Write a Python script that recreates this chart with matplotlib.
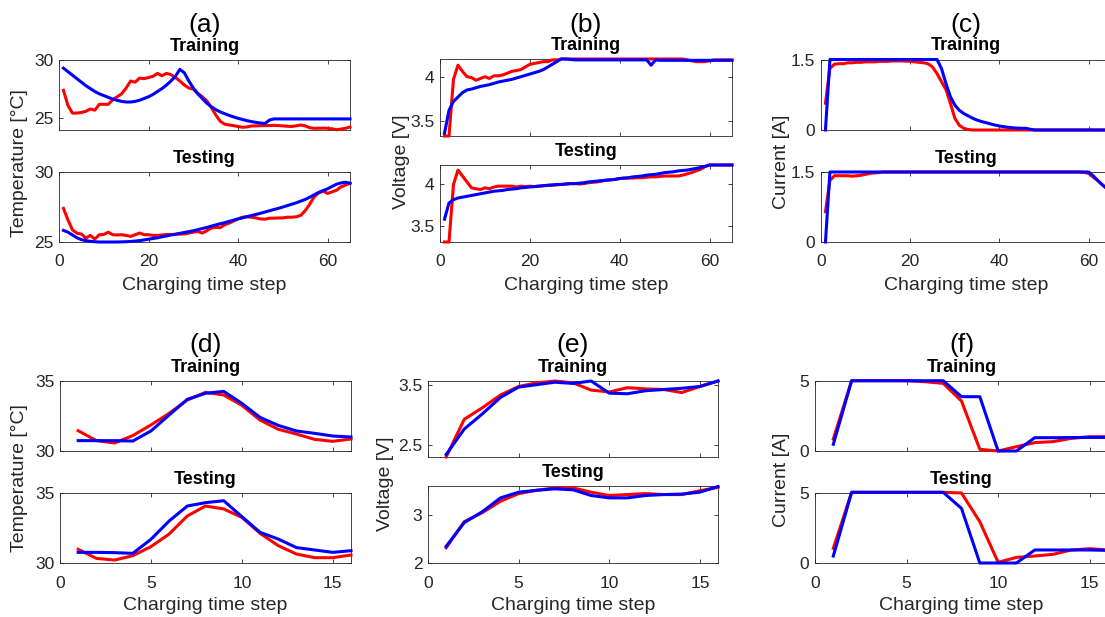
import matplotlib
matplotlib.use('Agg')
import matplotlib.pyplot as plt
from matplotlib.ticker import FormatStrFormatter
import numpy as np

# 字体: Arial 替代
plt.rcParams['font.family'] = ['Liberation Sans', 'DejaVu Sans']

# ==================== 数据 ====================
steps_long = np.arange(1, 66)
steps_short = np.arange(1, 17)

# (a) 温度, 65 步
a_train_red = [27.4, 26.1, 25.45, 25.45, 25.5, 25.6, 25.8, 25.7, 26.2, 26.2,
               26.2, 26.6, 26.85, 27.1, 27.6, 28.2, 28.1, 28.45, 28.4, 28.5,
               28.6, 28.85, 28.65, 28.85, 28.75, 28.5, 28.2, 27.85, 27.6, 27.5,
               27.15, 26.85, 26.5, 25.95, 25.3, 24.75, 24.5, 24.43, 24.37, 24.3,
               24.23, 24.26, 24.35, 24.35, 24.37, 24.37, 24.38, 24.4, 24.38, 24.35,
               24.32, 24.3, 24.36, 24.43, 24.35, 24.2, 24.14, 24.15, 24.16, 24.15,
               24.1, 24.02, 24.08, 24.15, 24.25]
a_train_blue = [29.3, 29.0, 28.7, 28.4, 28.1, 27.8, 27.55, 27.3, 27.1, 26.95,
                26.8, 26.65, 26.55, 26.45, 26.4, 26.4, 26.45, 26.55, 26.7, 26.85,
                27.05, 27.3, 27.55, 27.85, 28.2, 28.6, 29.2, 28.9, 28.2, 27.6,
                27.1, 26.7, 26.3, 26.0, 25.75, 25.55, 25.4, 25.25, 25.12, 25.0,
                24.9, 24.8, 24.72, 24.65, 24.6, 24.55, 24.85, 24.95, 24.95, 24.95,
                24.95, 24.95, 24.95, 24.95, 24.95, 24.95, 24.95, 24.95, 24.95, 24.95,
                24.95, 24.95, 24.95, 24.95, 24.95]
a_test_red = [27.4, 26.58, 25.87, 25.63, 25.57, 25.28, 25.47, 25.21, 25.52, 25.54,
              25.7, 25.52, 25.5, 25.52, 25.47, 25.4, 25.52, 25.64, 25.52, 25.52,
              25.47, 25.47, 25.5, 25.54, 25.54, 25.54, 25.57, 25.57, 25.64, 25.7,
              25.75, 25.64, 25.8, 26.0, 26.04, 26.02, 26.23, 26.35, 26.5, 26.65,
              26.77, 26.8, 26.77, 26.72, 26.65, 26.63, 26.7, 26.7, 26.72, 26.72,
              26.77, 26.77, 26.8, 26.9, 27.24, 27.7, 28.23, 28.5, 28.63, 28.47,
              28.58, 28.7, 28.94, 29.06, 29.2]
a_test_blue = [25.83, 25.7, 25.5, 25.3, 25.17, 25.1, 25.05, 25.02, 25.0, 25.0,
               25.0, 25.0, 25.0, 25.01, 25.02, 25.04, 25.07, 25.1, 25.15, 25.2,
               25.25, 25.3, 25.37, 25.43, 25.5, 25.56, 25.62, 25.68, 25.74, 25.8,
               25.88, 25.96, 26.04, 26.13, 26.22, 26.3, 26.38, 26.47, 26.56, 26.65,
               26.73, 26.81, 26.89, 26.97, 27.05, 27.14, 27.23, 27.32, 27.4, 27.5,
               27.6, 27.7, 27.8, 27.92, 28.04, 28.2, 28.37, 28.54, 28.67, 28.8,
               28.97, 29.13, 29.22, 29.27, 29.2]

# (b) 电压, 65 步
b_train_red = [3.33, 3.33, 3.97, 4.13, 4.06, 4.0, 3.99, 3.96, 3.98, 4.0,
               3.98, 4.01, 4.01, 4.02, 4.04, 4.06, 4.07, 4.08, 4.11, 4.14,
               4.15, 4.16, 4.17, 4.17, 4.19, 4.19, 4.2, 4.2, 4.2, 4.2,
               4.2, 4.2, 4.2, 4.2, 4.2, 4.2, 4.2, 4.2, 4.2, 4.2,
               4.2, 4.2, 4.2, 4.2, 4.2, 4.2, 4.2, 4.2, 4.2, 4.2,
               4.2, 4.2, 4.2, 4.2, 4.19, 4.18, 4.17, 4.17, 4.17, 4.18,
               4.19, 4.19, 4.19, 4.19, 4.19]
b_train_blue = [3.36, 3.62, 3.72, 3.77, 3.82, 3.85, 3.86, 3.875, 3.89, 3.9,
                3.91, 3.925, 3.94, 3.95, 3.96, 3.97, 3.985, 4.0, 4.015, 4.03,
                4.045, 4.06, 4.08, 4.11, 4.14, 4.17, 4.2, 4.2, 4.195, 4.19,
                4.19, 4.19, 4.19, 4.19, 4.19, 4.19, 4.19, 4.19, 4.19, 4.19,
                4.19, 4.19, 4.19, 4.19, 4.19, 4.19, 4.13, 4.19, 4.185, 4.185,
                4.185, 4.185, 4.185, 4.185, 4.185, 4.185, 4.185, 4.185, 4.185, 4.185,
                4.185, 4.185, 4.185, 4.185, 4.185]
b_test_red = [3.31, 3.31, 3.99, 4.16, 4.09, 4.02, 3.95, 3.94, 3.93, 3.95,
              3.94, 3.96, 3.97, 3.97, 3.97, 3.97, 3.96, 3.97, 3.965, 3.97,
              3.965, 3.97, 3.975, 3.98, 3.98, 3.985, 3.99, 3.995, 4.0, 4.0,
              3.995, 4.0, 4.01, 4.015, 4.02, 4.03, 4.04, 4.045, 4.05, 4.06,
              4.065, 4.065, 4.065, 4.07, 4.07, 4.075, 4.08, 4.08, 4.085, 4.09,
              4.09, 4.09, 4.09, 4.1, 4.115, 4.13, 4.15, 4.17, 4.2, 4.22,
              4.22, 4.22, 4.22, 4.22, 4.22]
b_test_blue = [3.58, 3.77, 3.81, 3.83, 3.84, 3.85, 3.86, 3.87, 3.88, 3.89,
               3.9, 3.91, 3.915, 3.92, 3.93, 3.935, 3.94, 3.95, 3.955, 3.96,
               3.965, 3.97, 3.975, 3.98, 3.985, 3.99, 3.99, 3.995, 4.0, 4.0,
               4.005, 4.01, 4.02, 4.025, 4.03, 4.035, 4.04, 4.045, 4.05, 4.06,
               4.065, 4.07, 4.08, 4.085, 4.09, 4.1, 4.105, 4.11, 4.12, 4.13,
               4.135, 4.14, 4.15, 4.155, 4.16, 4.17, 4.18, 4.19, 4.205, 4.22,
               4.22, 4.22, 4.22, 4.22, 4.22]

# (c) 电流, 65 步
c_train_red = [0.57, 1.31, 1.4, 1.41, 1.41, 1.43, 1.43, 1.44, 1.44, 1.45,
               1.45, 1.45, 1.46, 1.46, 1.46, 1.47, 1.47, 1.47, 1.465, 1.46,
               1.45, 1.44, 1.43, 1.41, 1.34, 1.2, 1.03, 0.86, 0.57, 0.25,
               0.1, 0.035, 0.01, 0.0, 0.0, 0.0, 0.0, 0.0, 0.0, 0.0,
               0.0, 0.0, 0.0, 0.0, 0.0, 0.0, 0.0, 0.0, 0.0, 0.0,
               0.0, 0.0, 0.0, 0.0, 0.0, 0.0, 0.0, 0.0, 0.0, 0.0,
               0.0, 0.0, 0.0, 0.0, 0.0]
c_train_blue = [0.0, 1.5, 1.5, 1.5, 1.5, 1.5, 1.5, 1.5, 1.5, 1.5,
                1.5, 1.5, 1.5, 1.5, 1.5, 1.5, 1.5, 1.5, 1.5, 1.5,
                1.5, 1.5, 1.5, 1.5, 1.5, 1.5, 1.31, 0.99, 0.71, 0.53,
                0.42, 0.35, 0.3, 0.25, 0.21, 0.18, 0.155, 0.13, 0.105, 0.085,
                0.07, 0.057, 0.047, 0.04, 0.037, 0.035, 0.014, 0.0, 0.0, 0.0,
                0.0, 0.0, 0.0, 0.0, 0.0, 0.0, 0.0, 0.0, 0.0, 0.0,
                0.0, 0.0, 0.0, 0.0, 0.0]
c_test_red = [0.65, 1.32, 1.42, 1.42, 1.42, 1.42, 1.41, 1.42, 1.43, 1.45,
              1.47, 1.48, 1.49, 1.5, 1.5, 1.5, 1.5, 1.5, 1.5, 1.5,
              1.5, 1.5, 1.5, 1.5, 1.5, 1.5, 1.5, 1.5, 1.5, 1.5,
              1.5, 1.5, 1.5, 1.5, 1.5, 1.5, 1.5, 1.5, 1.5, 1.5,
              1.5, 1.5, 1.5, 1.5, 1.5, 1.5, 1.5, 1.5, 1.5, 1.5,
              1.5, 1.5, 1.5, 1.5, 1.5, 1.5, 1.5, 1.5, 1.49, 1.47,
              1.39, 1.32, 1.23, 1.15, 1.08]
c_test_blue = [0.0, 1.5, 1.5, 1.5, 1.5, 1.5, 1.5, 1.5, 1.5, 1.5,
               1.5, 1.5, 1.5, 1.5, 1.5, 1.5, 1.5, 1.5, 1.5, 1.5,
               1.5, 1.5, 1.5, 1.5, 1.5, 1.5, 1.5, 1.5, 1.5, 1.5,
               1.5, 1.5, 1.5, 1.5, 1.5, 1.5, 1.5, 1.5, 1.5, 1.5,
               1.5, 1.5, 1.5, 1.5, 1.5, 1.5, 1.5, 1.5, 1.5, 1.5,
               1.5, 1.5, 1.5, 1.5, 1.5, 1.5, 1.5, 1.5, 1.5, 1.5,
               1.42, 1.32, 1.23, 1.15, 1.07]

# (d) 温度, 16 步
d_train_red = [31.45, 30.74, 30.57, 31.1, 31.86, 32.69, 33.64, 34.19,
               34.0, 33.26, 32.21, 31.55, 31.21, 30.83, 30.69, 30.86]
d_train_blue = [30.74, 30.74, 30.74, 30.71, 31.43, 32.57, 33.69, 34.12,
                34.26, 33.4, 32.4, 31.83, 31.43, 31.26, 31.07, 31.0]
d_test_red = [30.98, 30.33, 30.21, 30.52, 31.17, 32.07, 33.36, 34.07,
              33.86, 33.26, 32.12, 31.24, 30.64, 30.38, 30.38, 30.57]
d_test_blue = [30.76, 30.76, 30.74, 30.69, 31.69, 33.0, 34.07, 34.31,
               34.45, 33.31, 32.19, 31.71, 31.1, 30.93, 30.76, 30.88]

# (e) 电压, 16 步
e_train_red = [2.31, 2.93, 3.12, 3.33, 3.47, 3.53, 3.56, 3.53,
               3.41, 3.38, 3.45, 3.43, 3.42, 3.37, 3.47, 3.56]
e_train_blue = [2.35, 2.77, 3.02, 3.29, 3.46, 3.5, 3.54, 3.52,
                3.56, 3.36, 3.35, 3.4, 3.42, 3.44, 3.47, 3.56]
e_test_red = [2.32, 2.87, 3.06, 3.3, 3.46, 3.53, 3.58, 3.58,
              3.49, 3.42, 3.44, 3.46, 3.44, 3.44, 3.52, 3.59]
e_test_blue = [2.35, 2.85, 3.08, 3.37, 3.49, 3.53, 3.56, 3.54,
               3.42, 3.37, 3.37, 3.42, 3.44, 3.45, 3.49, 3.61]

# (f) 电流, 16 步
f_train_red = [0.86, 5.02, 5.02, 5.02, 5.02, 4.95, 4.83, 3.57,
               0.12, 0.0, 0.31, 0.6, 0.67, 0.9, 1.02, 1.02]
f_train_blue = [0.48, 5.02, 5.02, 5.02, 5.02, 5.02, 5.02, 3.88,
                3.88, 0.0, 0.0, 0.95, 0.95, 0.96, 0.97, 0.97]
f_test_red = [1.05, 5.05, 5.05, 5.05, 5.05, 5.05, 5.05, 5.0,
              2.95, 0.05, 0.4, 0.5, 0.62, 0.93, 1.02, 0.93]
f_test_blue = [0.5, 5.05, 5.05, 5.05, 5.05, 5.05, 5.05, 3.9,
               0.0, 0.0, 0.0, 0.93, 0.93, 0.93, 0.93, 0.9]

# ==================== 布局 (像素) ====================
W, H = 1105, 617
TXT = '#262626'


def rect(l, t, r, b):
    """像素坐标 -> figure 坐标"""
    return [l / W, 1 - b / H, (r - l) / W, (b - t) / H]


panels = [
    dict(tag='(a)', ylabel='Temperature [°C]', x=steps_long,
         train=(a_train_red, a_train_blue), test=(a_test_red, a_test_blue),
         xlim=(0, 65), xticks=[0, 20, 40, 60],
         ylim_tr=(24, 30), yt_tr=[25, 30], ylim_te=(25, 30), yt_te=[25, 30],
         r_tr=(59, 60, 350, 130), r_te=(59, 172, 350, 242),
         tag_y=25, ylab_x=20, ylab_y=163, xlab_y=286),
    dict(tag='(b)', ylabel='Voltage [V]', x=steps_long,
         train=(b_train_red, b_train_blue), test=(b_test_red, b_test_blue),
         xlim=(0, 65), xticks=[0, 20, 40, 60],
         ylim_tr=(3.33, 4.2), yt_tr=[3.5, 4], ylim_te=(3.31, 4.22), yt_te=[3.5, 4],
         r_tr=(440, 59, 732, 136), r_te=(440, 165, 732, 242),
         tag_y=25, ylab_x=402, ylab_y=162, xlab_y=286),
    dict(tag='(c)', ylabel='Current [A]', x=steps_long,
         train=(c_train_red, c_train_blue), test=(c_test_red, c_test_blue),
         xlim=(0, 65), xticks=[0, 20, 40, 60],
         ylim_tr=(0, 1.5), yt_tr=[0, 1.5], ylim_te=(0, 1.5), yt_te=[0, 1.5],
         r_tr=(821, 59.5, 1111, 130), r_te=(821, 172, 1111, 242),
         tag_y=25, ylab_x=781, ylab_y=162, xlab_y=286),
    dict(tag='(d)', ylabel='Temperature [°C]', x=steps_short,
         train=(d_train_red, d_train_blue), test=(d_test_red, d_test_blue),
         xlim=(0, 16), xticks=[0, 5, 10, 15],
         ylim_tr=(30, 35), yt_tr=[30, 35], ylim_te=(30, 35), yt_te=[30, 35],
         r_tr=(60, 381, 351, 451), r_te=(60, 493, 351, 563),
         tag_y=345, ylab_x=20, ylab_y=478, xlab_y=606),
    dict(tag='(e)', ylabel='Voltage [V]', x=steps_short,
         train=(e_train_red, e_train_blue), test=(e_test_red, e_test_blue),
         xlim=(0, 16), xticks=[0, 5, 10, 15],
         ylim_tr=(2.31, 3.56), yt_tr=[2.5, 3.5], ylim_te=(2, 3.62), yt_te=[2, 3],
         r_tr=(428, 381, 718, 457), r_te=(428, 486, 718, 563),
         tag_y=345, ylab_x=385, ylab_y=484, xlab_y=606),
    dict(tag='(f)', ylabel='Current [A]', x=steps_short,
         train=(f_train_red, f_train_blue), test=(f_test_red, f_test_blue),
         xlim=(0, 16), xticks=[0, 5, 10, 15],
         ylim_tr=(0, 5), yt_tr=[0, 5], ylim_te=(0, 5), yt_te=[0, 5],
         r_tr=(815, 381, 1108, 451), r_te=(815, 493, 1108, 563),
         tag_y=345, ylab_x=782, ylab_y=480, xlab_y=606),
]


def style_axes(ax, xlim, xticks, ylim, yticks, show_xlabels):
    ax.set_xlim(*xlim)
    ax.set_ylim(*ylim)
    ax.set_xticks(xticks)
    ax.set_yticks(yticks)
    ax.yaxis.set_major_formatter(FormatStrFormatter('%g'))
    ax.tick_params(direction='in', top=True, right=True, length=3, width=0.6,
                   labelsize=12.5, colors=TXT, pad=4)
    ax.tick_params(axis='x', pad=9)
    if not show_xlabels:
        ax.set_xticklabels([])
    for sp in ax.spines.values():
        sp.set_color(TXT)
        sp.set_linewidth(0.6)


fig = plt.figure(figsize=(W / 100, H / 100), dpi=100)

for p in panels:
    ax_tr = fig.add_axes(rect(*p['r_tr']))
    ax_te = fig.add_axes(rect(*p['r_te']))

    for ax, (red, blue), title in [(ax_tr, p['train'], 'Training'),
                                   (ax_te, p['test'], 'Testing')]:
        ax.plot(p['x'], red, color='#ff0000', lw=2.2, clip_on=False, zorder=3)
        ax.plot(p['x'], blue, color='#0000ff', lw=2.2, clip_on=False, zorder=4)
        ax.set_title(title, fontsize=13, fontweight='bold', pad=6.5)

    style_axes(ax_tr, p['xlim'], p['xticks'], p['ylim_tr'], p['yt_tr'], False)
    style_axes(ax_te, p['xlim'], p['xticks'], p['ylim_te'], p['yt_te'], True)

    # 面板标签 / 轴标签
    l, r = p['r_tr'][0], p['r_tr'][2]
    cx = (l + r) / 2
    fig.text(cx / W, 1 - p['tag_y'] / H, p['tag'], fontsize=19,
             ha='center', va='center')
    fig.text(cx / W, 1 - p['xlab_y'] / H, 'Charging time step', fontsize=14,
             ha='center', va='center', color=TXT)
    fig.text(p['ylab_x'] / W, 1 - p['ylab_y'] / H, p['ylabel'], fontsize=14,
             ha='center', va='center', rotation=90, color=TXT)

fig.savefig('out.png', dpi=100)
